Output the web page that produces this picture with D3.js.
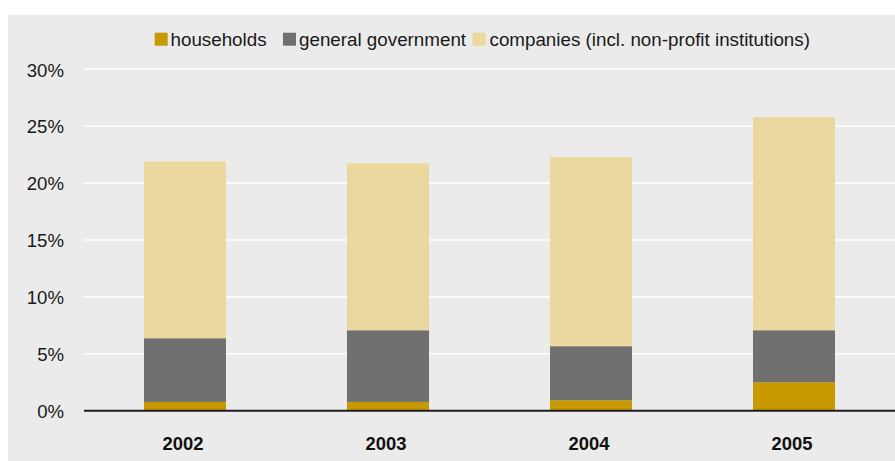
<!DOCTYPE html>
<html>
<head>
<meta charset="utf-8">
<script src="https://cdn.jsdelivr.net/npm/d3@7"></script>
<style>
  html, body { margin: 0; padding: 0; background: #ffffff; }
  svg { display: block; font-family: "Liberation Sans", Arial, Helvetica, sans-serif; }
</style>
</head>
<body>
<svg id="chart" width="895" height="461"></svg>
<script>
// Years on the x axis
const years = ["2002", "2003", "2004", "2005"];
// Share held by each sector, in percent
const households = [0.77, 0.77, 0.92, 2.5];
const generalGovernment = [5.6, 6.3, 4.75, 4.57];
const companies = [15.53, 14.68, 16.61, 18.73];
// Series names and y tick values
const seriesNames = ["households", "general government", "companies (incl. non-profit institutions)"];
const yTicks = [0, 5, 10, 15, 20, 25, 30];

const colors = ["#c99a00", "#717071", "#ead89f"];

const svg = d3.select("#chart");
const W = 895, H = 461;
const plot = { left: 84, right: 895, top: 69.3, bottom: 410.7 };

// panel background
svg.append("rect")
  .attr("x", 8).attr("y", 15)
  .attr("width", W - 8).attr("height", H - 15)
  .attr("fill", "#ebebeb");

const x = d3.scaleBand()
  .domain(years)
  .range([plot.left - 0.5, plot.right + 0.5])
  .paddingInner(0.596)
  .paddingOuter(0.298);

const y = d3.scaleLinear()
  .domain([0, 30])
  .range([plot.bottom, plot.top]);

// gridlines
svg.append("g")
  .selectAll("line")
  .data(yTicks.filter(d => d > 0))
  .join("line")
  .attr("x1", plot.left).attr("x2", plot.right)
  .attr("y1", d => y(d)).attr("y2", d => y(d))
  .attr("stroke", "#ffffff")
  .attr("stroke-width", 1.6);

// y axis labels
const yAxis = d3.axisLeft(y).tickValues(yTicks).tickFormat(d => d + "%").tickSize(0).tickPadding(0);
const yg = svg.append("g")
  .attr("transform", `translate(64,0)`)
  .call(yAxis);
yg.select(".domain").remove();
yg.selectAll("text")
  .attr("font-size", 18.6)
  .attr("font-family", "Liberation Sans, Arial, sans-serif")
  .attr("fill", "#1a1a1a")
  .attr("dy", "0.36em");

// stacked bars
const table = years.map((yr, i) => ({
  year: yr,
  households: households[i],
  gov: generalGovernment[i],
  companies: companies[i]
}));
const stack = d3.stack().keys(["households", "gov", "companies"]);
const layers = stack(table);

svg.append("g")
  .selectAll("g")
  .data(layers)
  .join("g")
  .attr("fill", (d, i) => colors[i])
  .selectAll("rect")
  .data(d => d)
  .join("rect")
  .attr("x", d => x(d.data.year))
  .attr("width", x.bandwidth())
  .attr("y", d => y(d[1]))
  .attr("height", d => y(d[0]) - y(d[1]));

// zero baseline
svg.append("line")
  .attr("x1", plot.left).attr("x2", plot.right)
  .attr("y1", y(0)).attr("y2", y(0))
  .attr("stroke", "#1e1e1e")
  .attr("stroke-width", 2);

// x axis labels
const xAxis = d3.axisBottom(x).tickSize(0).tickPadding(0);
const xg = svg.append("g")
  .attr("transform", `translate(-2,450)`)
  .call(xAxis);
xg.select(".domain").remove();
xg.selectAll("text")
  .attr("font-size", 18.4)
  .attr("font-weight", "bold")
  .attr("font-family", "Liberation Sans, Arial, sans-serif")
  .attr("fill", "#111111")
  .attr("dy", 0)
  .attr("y", 0);

// legend
const legendItems = [
  { name: seriesNames[0], sx: 154.7, tx: 170.5 },
  { name: seriesNames[1], sx: 283, tx: 299 },
  { name: seriesNames[2], sx: 472.6, tx: 489.5 }
];
const lg = svg.append("g");
legendItems.forEach((it, i) => {
  lg.append("rect")
    .attr("x", it.sx).attr("y", 32.7)
    .attr("width", 13).attr("height", 13)
    .attr("fill", colors[i]);
  lg.append("text")
    .attr("x", it.tx).attr("y", 45.5)
    .attr("font-size", 18.8)
    .attr("fill", "#1a1a1a")
    .text(it.name);
});
</script>
</body>
</html>
